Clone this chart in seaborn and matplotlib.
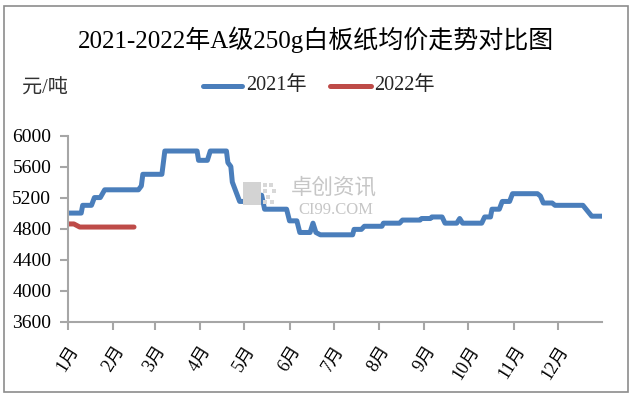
import matplotlib
matplotlib.use("Agg")
import matplotlib.pyplot as plt
import seaborn as sns
import pandas as pd
import numpy as np
from matplotlib.patches import Rectangle
from matplotlib.lines import Line2D

# ---- data (day offset from Jan 1, price 元/吨) ----
days_2021 = [0, 9, 10, 16, 18, 22, 25, 48, 50, 51, 64, 66, 88, 89, 95, 97, 108, 109, 111, 112, 114, 117,
             125, 127, 132, 134, 149, 151, 156, 158, 165, 167, 169, 172, 194, 195, 200, 202, 214, 215,
             226, 228, 240, 241, 247, 248, 255, 257, 265, 267, 269, 282, 284, 288, 289, 294, 296, 301,
             303, 320, 322, 324, 330, 332, 351, 354, 357, 364]
price_2021 = [5000, 5000, 5100, 5100, 5200, 5200, 5300, 5300, 5350, 5500, 5500, 5800, 5800, 5680, 5680,
              5800, 5800, 5650, 5600, 5400, 5300, 5150, 5150, 5230, 5230, 5050, 5050, 4900, 4900, 4750,
              4750, 4870, 4750, 4720, 4720, 4790, 4790, 4830, 4830, 4870, 4870, 4910, 4910, 4930, 4930,
              4950, 4950, 4870, 4870, 4930, 4870, 4870, 4950, 4950, 5050, 5050, 5150, 5150, 5250, 5250,
              5220, 5130, 5130, 5100, 5100, 5030, 4960, 4960]
days_2022 = [0, 4, 8, 45]
price_2022 = [4860, 4860, 4820, 4820]

series_names = ["2021年", "2022年"]
month_labels = ["1月", "2月", "3月", "4月", "5月", "6月", "7月", "8月", "9月", "10月", "11月", "12月"]
y_ticks = [3600, 4000, 4400, 4800, 5200, 5600, 6000]

base = pd.Timestamp("2021-01-01")
df = pd.concat([
    pd.DataFrame({"date": base + pd.to_timedelta(days_2021, unit="D"), "price": price_2021, "year": series_names[0]}),
    pd.DataFrame({"date": base + pd.to_timedelta(days_2022, unit="D"), "price": price_2022, "year": series_names[1]}),
])

sns.set_theme(style="white")
plt.rcParams["font.family"] = ["Liberation Serif", "Noto Sans CJK SC", "DejaVu Sans"]

fig = plt.figure(figsize=(6.34, 3.96), dpi=100)

W, H = 634, 396
def fx(x):
    return x / W
def fy(y):
    return 1 - y / H

# watermark (behind)
fig.patches.append(Rectangle((fx(243), fy(205)), 18 / W, 23 / H, transform=fig.transFigure,
                             facecolor="#D3D3D3", edgecolor="none", zorder=0))
for (cx, cy) in [(263, 183), (269, 183), (263, 189), (272, 189), (266, 195), (263, 200), (270, 200)]:
    fig.patches.append(Rectangle((fx(cx), fy(cy + 4)), 4 / W, 4 / H, transform=fig.transFigure,
                                 facecolor="#D8D8D8", edgecolor="none", zorder=0))
fig.text(fx(334), fy(188), "卓创资讯", fontsize=15.5, color="#C6C6C6", ha="center", va="center",
         family=["Noto Sans CJK SC"], zorder=0)
fig.text(fx(336), fy(210.5), "CI99.COM", fontsize=12, color="#C6C6C6", ha="center", va="center", zorder=0)

ax = fig.add_axes([fx(68), fy(321.7), (602 - 68) / W, (321.7 - 135.5) / H])
ax.patch.set_alpha(0)

palette = {"2021年": "#4A7EBB", "2022年": "#BE4B48"}
sns.lineplot(data=df, x="date", y="price", hue="year", palette=palette, linewidth=3.6,
             ax=ax, legend=False, solid_capstyle="round", solid_joinstyle="round")

ax.set_xlim(base, base + pd.Timedelta(days=364))
ax.set_ylim(3600, 6000)
ax.set_yticks(y_ticks)
ax.set_yticklabels([str(v) for v in y_ticks], fontsize=14)
month_starts = [pd.Timestamp(f"2021-{m:02d}-01") for m in range(1, 13)]
ax.set_xticks(month_starts)
ax.set_xticklabels(month_labels, fontsize=13, rotation=58, ha="right", rotation_mode="anchor")
ax.set_xlabel("")
ax.set_ylabel("")

for s in ["top", "right"]:
    ax.spines[s].set_visible(False)
for s in ["left", "bottom"]:
    ax.spines[s].set_color("#A6A6A6")
    ax.spines[s].set_linewidth(1.5)
ax.tick_params(axis="both", which="major", direction="out", length=6, width=1.5, color="#A6A6A6",
               left=True, bottom=True, labelcolor="black")
ax.tick_params(axis="y", pad=6)
ax.tick_params(axis="x", pad=9)
ax.grid(False)

# title
fig.text(fx(316), fy(40), "2021-2022年A级250g白板纸均价走势对比图", fontsize=18,
         ha="center", va="center", color="black")
# unit
fig.text(fx(22), fy(89), "元/吨", fontsize=14.5, ha="left", va="center", color="#333333")

# legend (manual, figure coords)
fig.lines.append(Line2D([fx(203), fx(242)], [fy(86)] * 2, transform=fig.transFigure,
                        color=palette["2021年"], linewidth=3.6, solid_capstyle="round"))
fig.text(fx(246), fy(86), "2021年", fontsize=14.5, ha="left", va="center")
fig.lines.append(Line2D([fx(330), fx(371)], [fy(86)] * 2, transform=fig.transFigure,
                        color=palette["2022年"], linewidth=3.6, solid_capstyle="round"))
fig.text(fx(374), fy(86), "2022年", fontsize=14.5, ha="left", va="center")

# figure border
fig.patches.append(Rectangle((fx(4), fy(392)), 624 / W, 386 / H, transform=fig.transFigure,
                             facecolor="none", edgecolor="#8C8C8C", linewidth=1.2))

fig.savefig("out.png", dpi=100)
